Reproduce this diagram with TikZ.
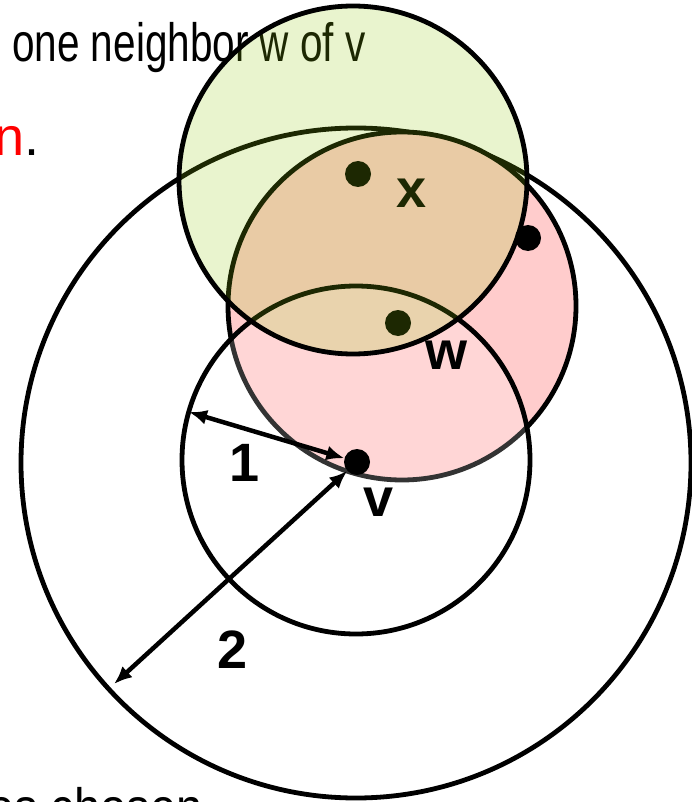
\documentclass[tikz,border=0pt]{standalone}
\usepackage{fontspec}
\setmainfont{Liberation Sans}
\usetikzlibrary{arrows.meta}
\definecolor{pinkfill}{RGB}{255,204,204}
\definecolor{greenfill}{RGB}{145,200,10}
\tikzset{
  ring/.style={draw=black, line width=4.8pt},
  dot/.style={circle, fill=black, minimum size=26pt, inner sep=0pt},
  lbl/.style={font=\fontsize{54}{58}\selectfont\bfseries, inner sep=0pt},
  slidetext/.style={font=\fontsize{54}{60}\selectfont, inner sep=0pt},
  dimarrow/.style={line width=4.5pt, {Latex[length=18pt,width=15pt]}-{Latex[length=18pt,width=15pt]}},
}
\begin{document}
\begin{tikzpicture}[x=1pt,y=-1pt]
\useasboundingbox (0,0) rectangle (692,802);
\clip (0,0) rectangle (692,802);
% big circle (radius 2)
\draw[ring] (356,463) circle[radius=335];
% pink circle around w
\fill[pinkfill] (402,306) circle[radius=174];
\draw[ring] (402,306) circle[radius=174];
% unit circle around v
\fill[white, fill opacity=0.2] (356,460) circle[radius=174];
\draw[ring] (356,460) circle[radius=174];
% slide texts
\node[slidetext, anchor=base west] (t1) at (12,62) {\scalebox{0.75}[1]{one neighbor w of v}};
\node[slidetext, anchor=base east] (t2) at (40,156) {\textcolor{red}{n}.};
\node[slidetext, anchor=base west] (t3) at (-12,826) {\scalebox{0.87}[1]{es chosen}};
% points under the green disc
\node[dot] (x) at (358,174) {};
\node[dot] (w) at (398,323) {};
\node[lbl] (xl) at (412,193) {x};
\node[lbl] (wl) at (446,355) {w};
% green circle around x
\fill[greenfill, fill opacity=0.2] (353,180) circle[radius=174];
\draw[ring] (353,180) circle[radius=174];
% points on top
\node[dot] (u) at (528,238) {};
\node[dot] (v) at (357,462) {};
\node[lbl] (vl) at (379,502) {v};
\coordinate (c1) at (189,412);
\coordinate (c2) at (114,684);
\draw[dimarrow] (c1) -- (v);
\draw[dimarrow] (c2) -- (v);
\node[lbl] (one) at (245,463) {1};
\node[lbl] (two) at (233,650) {2};
\end{tikzpicture}
\end{document}
